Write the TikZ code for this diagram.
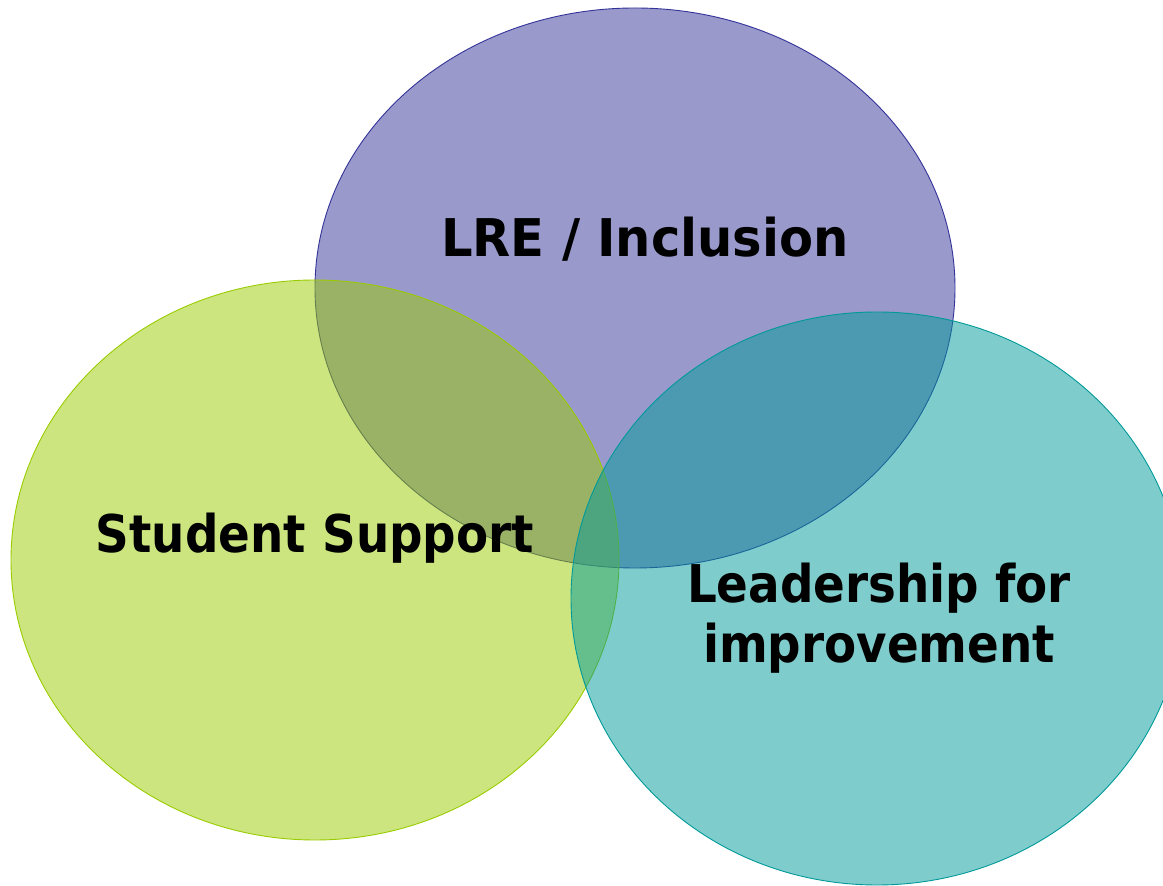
\documentclass[tikz,border=0pt]{standalone}
\usepackage{fontspec}
\setmainfont{DejaVu Sans Condensed}
\definecolor{lrecol}{HTML}{333399}
\definecolor{studcol}{HTML}{99CC00}
\definecolor{leadcol}{HTML}{009999}
\begin{document}
\begin{tikzpicture}[x=1pt,y=1pt,
  blob/.style={fill opacity=0.5, line width=0.9pt},
  lbl/.style={font=\bfseries\fontsize{52}{60}\selectfont, text=black, inner sep=0pt, align=center}]
\useasboundingbox (0,0) rectangle (1163,886);
% three overlapping translucent ellipses
\filldraw[blob, fill=lrecol, draw=lrecol] (635,598) ellipse [x radius=320, y radius=280];
\filldraw[blob, fill=studcol, draw=studcol] (315,326) ellipse [x radius=304, y radius=280];
\filldraw[blob, fill=leadcol, draw=leadcol] (877,287.5) ellipse [x radius=306, y radius=286.5];
% labels
\node[lbl, anchor=base] (lre) at (645,629) {\scalebox{1.06}[1]{LRE / Inclusion}};
\node[lbl, anchor=base] (stud) at (315,333) {Student Support};
\node[lbl, anchor=base] (lead) at (879,223) {Leadership for\\improvement};
\end{tikzpicture}
\end{document}
